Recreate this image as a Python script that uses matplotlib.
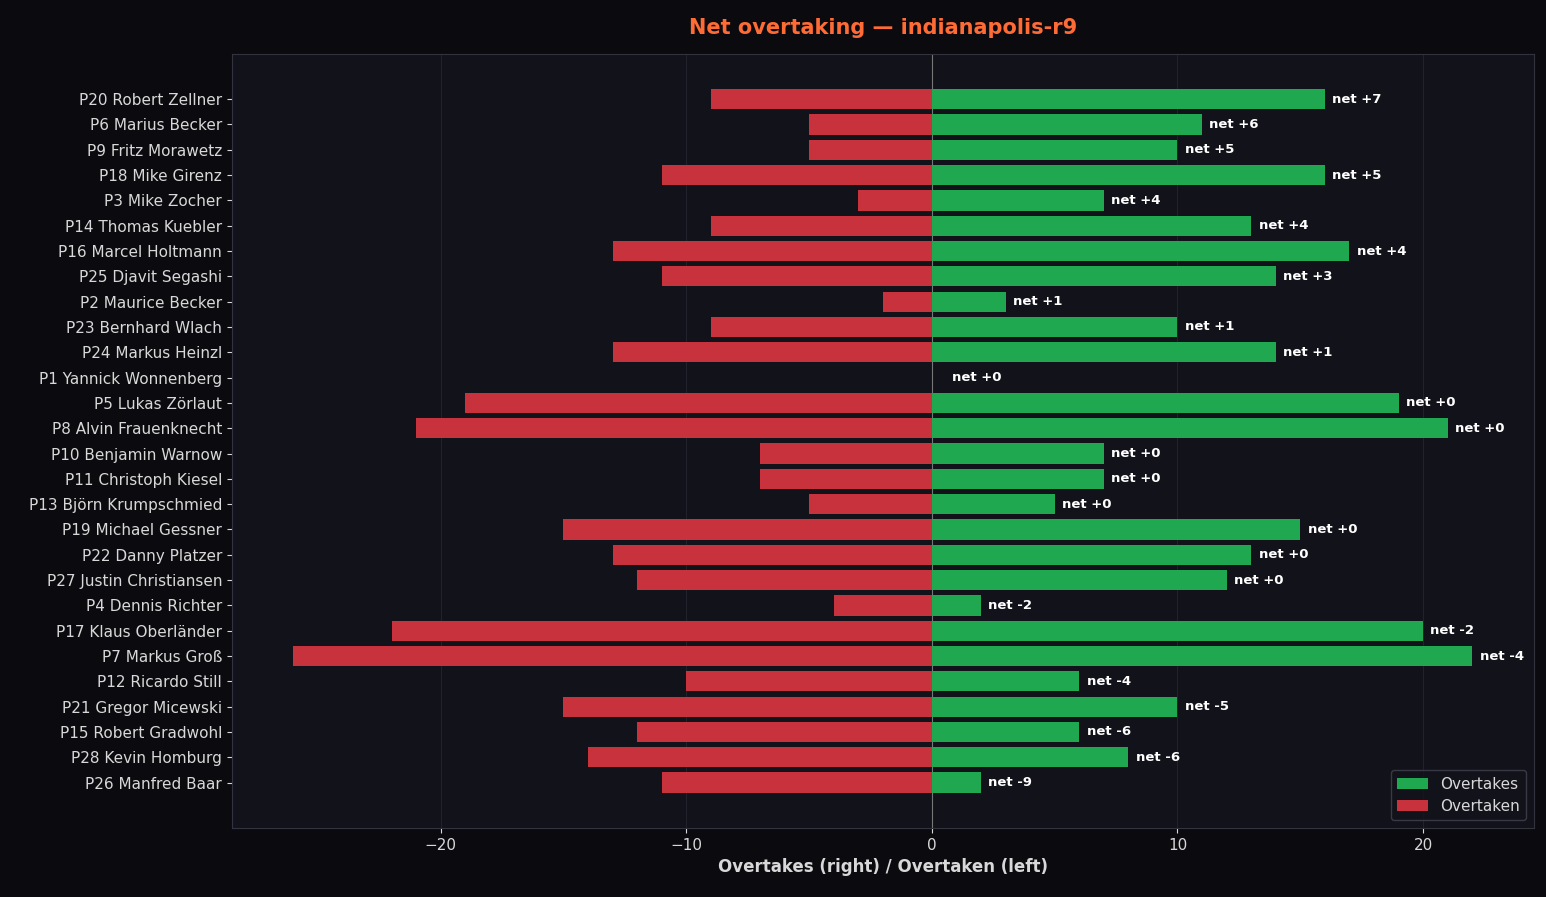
import matplotlib.pyplot as plt
import numpy as np

drivers = ["P20 Robert Zellner", "P6 Marius Becker", "P9 Fritz Morawetz", "P18 Mike Girenz",
           "P3 Mike Zocher", "P14 Thomas Kuebler", "P16 Marcel Holtmann", "P25 Djavit Segashi",
           "P2 Maurice Becker", "P23 Bernhard Wlach", "P24 Markus Heinzl", "P1 Yannick Wonnenberg",
           "P5 Lukas Zörlaut", "P8 Alvin Frauenknecht", "P10 Benjamin Warnow", "P11 Christoph Kiesel",
           "P13 Björn Krumpschmied", "P19 Michael Gessner", "P22 Danny Platzer", "P27 Justin Christiansen",
           "P4 Dennis Richter", "P17 Klaus Oberländer", "P7 Markus Groß", "P12 Ricardo Still",
           "P21 Gregor Micewski", "P15 Robert Gradwohl", "P28 Kevin Homburg", "P26 Manfred Baar"]
overtakes = [16, 11, 10, 16, 7, 13, 17, 14, 3, 10, 14, 0, 19, 21, 7, 7, 5, 15, 13, 12, 2, 20, 22, 6, 10, 6, 8, 2]
overtaken = [9, 5, 5, 11, 3, 9, 13, 11, 2, 9, 13, 0, 19, 21, 7, 7, 5, 15, 13, 12, 4, 22, 26, 10, 15, 12, 14, 11]

fig_bg = "#0b0b0f"
ax_bg = "#12121a"
fig, ax = plt.subplots(figsize=(15.46, 8.97), dpi=100)
fig.patch.set_facecolor(fig_bg)
ax.set_facecolor(ax_bg)

y = np.arange(len(drivers))
ax.barh(y, overtakes, color="#1fa84f", label="Overtakes", zorder=3)
ax.barh(y, [-v for v in overtaken], color="#c8323c", label="Overtaken", zorder=3)
for yi, o, d in zip(y, overtakes, overtaken):
    net = o - d
    ax.text(max(o, 0.5) + 0.3, yi, f"net {net:+d}", va="center", ha="left",
            color="white", fontsize=9.5, fontweight="bold", zorder=4)

ax.axvline(0, color="#777777", lw=0.8, zorder=2)
ax.set_yticks(y)
ax.set_yticklabels(drivers)
ax.invert_yaxis()
ax.grid(axis="x", color="#22222c", lw=0.8, zorder=0)
ax.set_axisbelow(True)
ax.set_xlim(-28.5, 24.5)

ax.tick_params(colors="#d8d8d8", labelsize=11)
for s in ax.spines.values():
    s.set_color("#333340")
ax.set_xlabel("Overtakes (right) / Overtaken (left)", color="#d8d8d8", fontsize=12, fontweight="bold")
ax.set_title("Net overtaking — indianapolis-r9", color="#ff6b35", fontsize=15, fontweight="bold", pad=14)
leg = ax.legend(loc="lower right", facecolor=ax_bg, edgecolor="#444450", fontsize=11)
for t in leg.get_texts():
    t.set_color("#d8d8d8")

plt.subplots_adjust(left=0.15, right=0.992, top=0.94, bottom=0.077)
plt.savefig("out.png", facecolor=fig_bg)
